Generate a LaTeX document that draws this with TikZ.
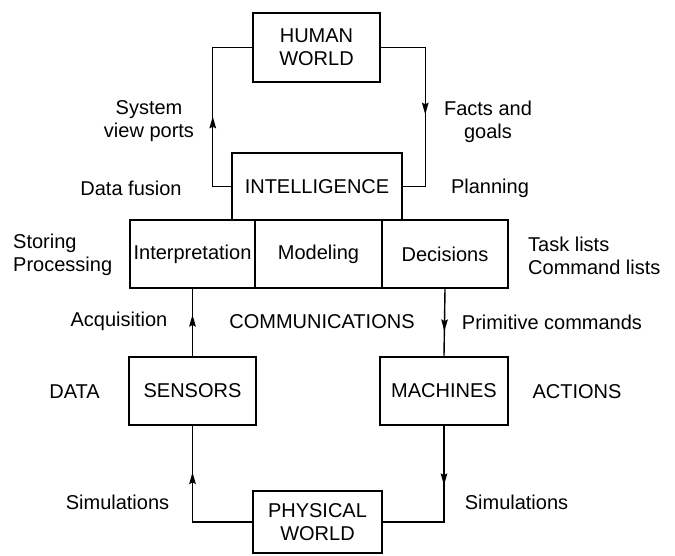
\documentclass[tikz,border=0pt]{standalone}
\usepackage{fontspec}
\setmainfont{Liberation Sans}
\usetikzlibrary{decorations.markings}
\begin{document}
\begin{tikzpicture}[x=1pt,y=-1pt,
  every node/.style={font=\fontsize{20}{23}\selectfont},
  box/.style={draw,line width=2.5pt,inner sep=0pt,align=center},
  link/.style={line width=1.4pt},
  tipat/.style={postaction={decorate,decoration={markings,
      mark=at position #1 with {\fill (0pt,0pt) -- (-12pt,3.4pt)
        .. controls (-10pt,0pt) .. (-12pt,-3.4pt) -- cycle;}}}},
  lbl/.style={inner sep=0pt,align=center}]
\useasboundingbox (0,0) rectangle (675,556);

% blocks
\node[box,minimum width=127pt,minimum height=69pt] (hw) at (316.5,47.5) {HUMAN\\WORLD};
\node[box,minimum width=170pt,minimum height=67pt] (intel) at (317,186.5) {INTELLIGENCE};
\node[box,minimum width=125pt,minimum height=68pt] (interp) at (192.5,254) {Interpretation};
\node[box,minimum width=127pt,minimum height=68pt] (model) at (318.5,254) {Modeling};
\node[box,minimum width=126pt,minimum height=68pt] (decis) at (445,254) {Decisions};
\node[box,minimum width=127pt,minimum height=68pt] (sens) at (192.5,391) {SENSORS};
\node[box,minimum width=128pt,minimum height=68pt] (mach) at (444,391) {MACHINES};
\node[box,minimum width=129pt,minimum height=62pt] (phys) at (317.5,522) {PHYSICAL\\WORLD};

% connectors, each with an arrowhead part way along
\draw[link,tipat=88pt] (intel.west) -- ++(-18,0) |- (hw.west);
\draw[link,tipat=111pt] (hw.east) -- ++(44,0) |- (intel.east);
\draw[link,tipat=41pt] (sens.north) -- (interp.south);
\draw[link,tipat=42pt] (decis.south) -- (mach.north);
\draw[link,tipat=109pt] (phys.west) -| (sens.south);
\draw[link,tipat=59pt] (mach.south) |- (phys.east);

% labels
\node[lbl] (sysvp) at (149,121.5) {System\\view ports};
\node[lbl] (facts) at (488,121.5) {Facts and\\goals};
\node[lbl] (fusion) at (131,188) {Data fusion};
\node[lbl] (plan) at (490,188) {Planning};
\node[lbl,anchor=west,align=left] (store) at (13,255) {Storing\\Processing};
\node[lbl,anchor=west,align=left] (tasks) at (528,255.5) {Task lists\\Command lists};
\node[lbl] (acq) at (119,321) {Acquisition};
\node[lbl] (comm) at (322,322) {COMMUNICATIONS};
\node[lbl] (prim) at (552,322) {Primitive commands};
\node[lbl] (data) at (74.5,392) {DATA};
\node[lbl] (act) at (577,392) {ACTIONS};
\node[lbl] (simL) at (117.5,502) {Simulations};
\node[lbl] (simR) at (516.5,502) {Simulations};
\end{tikzpicture}
\end{document}
